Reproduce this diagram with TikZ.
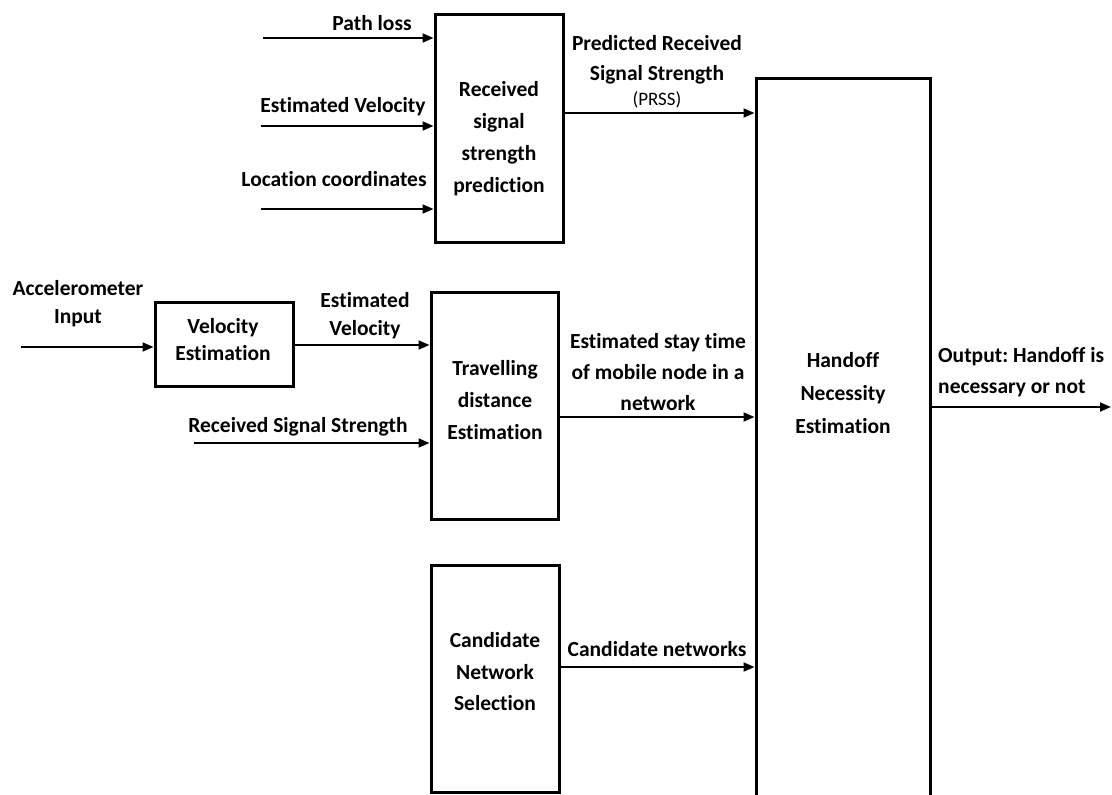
\documentclass[tikz,border=0pt]{standalone}
\usepackage{fontspec}
\setmainfont{Carlito}[Ligatures=NoCommon]
\usetikzlibrary{arrows.meta}
\begin{document}
\frenchspacing
\begin{tikzpicture}[x=1pt,y=-1pt,
  blk/.style={draw, line width=3pt, inner sep=0pt},
  lbl/.style={font=\bfseries\fontsize{21.5}{31}\selectfont, align=center, inner sep=0pt},
  ls/.style={font=\bfseries\fontsize{21.5}{#1}\selectfont},
  flow/.style={line width=1.8pt, -{Triangle[length=11pt,width=9pt]}},
]
\useasboundingbox (0,0) rectangle (1112,795);
\fill[white] (0,0) rectangle (1112,795);
\clip (0,0) rectangle (1112,795);

% blocks
\node[blk, minimum width=128, minimum height=228] (rsp) at (499,128) {};
\node[lbl, ls=32] (rspt) at (499,138.5) {Received\\signal\\strength\\prediction};
\node[blk, minimum width=138, minimum height=84] (vel) at (224,344) {};
\node[lbl, ls=27] (velt) at (223,340) {Velocity\\Estimation};
\node[blk, minimum width=127, minimum height=227] (trav) at (494.5,405.5) {};
\node[lbl, ls=32] (travt) at (495,400) {Travelling\\distance\\Estimation};
\node[blk, minimum width=128, minimum height=227] (cand) at (495,678.5) {};
\node[lbl, ls=31.5] (candt) at (495,672) {Candidate\\Network\\Selection};
\node[blk, minimum width=174, minimum height=740] (hand) at (843,448) {};
\node[lbl, ls=33] (handt) at (843,393) {Handoff\\Necessity\\Estimation};

% free ends
\coordinate (plS) at (263,38);
\coordinate (evS) at (261,126);
\coordinate (lcS) at (261,209);
\coordinate (accS) at (21,347);
\coordinate (rssS) at (194,443);
\coordinate (outE) at (1111,407);

% connectors
\draw[flow] (plS) -- (plS -| rsp.west);
\draw[flow] (evS) -- (evS -| rsp.west);
\draw[flow] (lcS) -- (lcS -| rsp.west);
\draw[flow] ([yshift=15pt]rsp.east) -- ([yshift=15pt]rsp.east -| hand.west);
\draw[flow] (accS) -- (accS -| vel.west);
\draw[flow] ([yshift=-1pt]vel.east) -- ([yshift=-1pt]vel.east -| trav.west);
\draw[flow] (rssS) -- (rssS -| trav.west);
\draw[flow] ([yshift=-11.5pt]trav.east) -- ([yshift=-11.5pt]trav.east -| hand.west);
\draw[flow] ([yshift=11.5pt]cand.east) -- ([yshift=11.5pt]cand.east -| hand.west);
\draw[flow] (outE -| hand.east) -- (outE);

% labels
\node[lbl] (plL) at (372,23) {Path loss};
\node[lbl] (evL) at (343,107) {Estimated Velocity};
\node[lbl] (lcL) at (334,179) {Location coordinates};
\node[lbl, ls=30] (prL) at (657,60) {Predicted Received\\Signal Strength};
\node[lbl, font=\fontsize{19}{22}\selectfont] (prsL) at (657,100) {(PRSS)};
\node[lbl, ls=28] (accL) at (78,304) {Accelerometer\\Input};
\node[lbl, ls=28] (ev2L) at (365,316) {Estimated\\Velocity};
\node[lbl] (rssL) at (298,427) {Received Signal Strength};
\node[lbl] (stL) at (658,372) {Estimated stay time\\of mobile node in a\\network};
\node[lbl] (cnL) at (657,649) {Candidate networks};
\node[lbl, align=left, anchor=west] (outL) at (938,372.5) {Output: Handoff is\\necessary or not};
\end{tikzpicture}
\end{document}
